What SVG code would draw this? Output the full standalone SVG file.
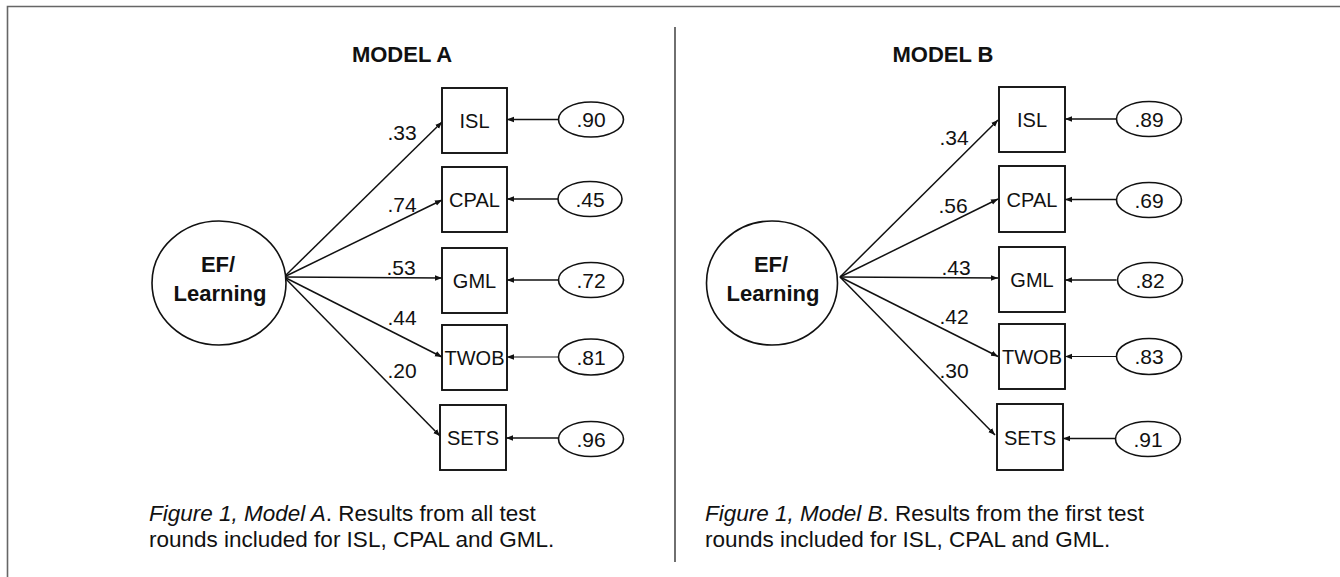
<svg xmlns="http://www.w3.org/2000/svg" width="1340" height="577" viewBox="0 0 1340 577">
<style>
  .frame { stroke: #666; stroke-width: 1.6; fill: none; }
  .divider { stroke: #333; stroke-width: 1.4; fill: none; }
  .box { fill: #fff; stroke: #111; stroke-width: 1.9; }
  .latent { fill: #fff; stroke: #111; stroke-width: 1.6; }
  .err { fill: #fff; stroke: #111; stroke-width: 1.6; }
  .edge { stroke: #111; stroke-width: 1.5; fill: none; marker-end: url(#arr); }
  .edge-thin { stroke: #111; stroke-width: 1; fill: none; marker-end: url(#arr); }
  .title { font-family: "Liberation Sans", Arial, sans-serif; font-weight: bold; font-size: 22px; fill: #111; text-anchor: middle; }
  .lat { font-family: "Liberation Sans", Arial, sans-serif; font-weight: bold; font-size: 22px; fill: #111; text-anchor: middle; }
  .lbl { font-family: "Liberation Sans", Arial, sans-serif; font-size: 20px; fill: #111; text-anchor: middle; }
  .num { font-family: "Liberation Sans", Arial, sans-serif; font-size: 21px; fill: #111; text-anchor: middle; }
  .cap { font-family: "Liberation Sans", Arial, sans-serif; font-size: 22.5px; fill: #111; }
  .it { font-style: italic; }
</style>
<defs>
  <marker id="arr" viewBox="0 0 10 10" refX="10" refY="5" markerWidth="7" markerHeight="7" markerUnits="userSpaceOnUse" orient="auto">
    <path d="M0,1 L10,5 L0,9 Z" fill="#111"/>
  </marker>
</defs>
<rect x="0" y="0" width="1340" height="577" fill="#fff"/>
<path class="frame" d="M7.5,577 L7.5,6.5 L1340,6.5"/>
<line class="divider" x1="675" y1="27" x2="675" y2="562"/>

<!-- Model A -->
<text class="title" x="402" y="62">MODEL A</text>
<g id="connectorsA">
  <line class="edge" x1="284" y1="277" x2="442" y2="122"/>
  <line class="edge" x1="284" y1="277" x2="442" y2="200"/>
  <line class="edge" x1="284" y1="277" x2="442" y2="278"/>
  <line class="edge" x1="284" y1="277" x2="442" y2="357"/>
  <line class="edge" x1="284" y1="277" x2="440" y2="436"/>
  <line class="edge" x1="558.5" y1="119.5" x2="507" y2="119.5"/>
  <line class="edge" x1="558.5" y1="199" x2="507" y2="199"/>
  <line class="edge" x1="558.5" y1="280" x2="507" y2="280"/>
  <line class="edge-thin" x1="558.5" y1="357" x2="507" y2="357"/>
  <line class="edge" x1="558.5" y1="438" x2="506" y2="438"/>
  <text class="num" x="402" y="140">.33</text>
  <text class="num" x="402" y="212">.74</text>
  <text class="num" x="401" y="275">.53</text>
  <text class="num" x="402" y="325">.44</text>
  <text class="num" x="402" y="378">.20</text>
</g>
<g id="A-latent">
  <ellipse class="latent" cx="219" cy="283" rx="67" ry="62"/>
  <text class="lat" x="218" y="272">EF/</text>
  <text class="lat" x="220" y="301">Learning</text>
</g>
<g id="A-ISL"><rect class="box" x="442" y="88" width="65" height="65"/><text class="lbl" x="474.5" y="127.5">ISL</text></g>
<g id="A-CPAL"><rect class="box" x="442" y="167" width="65" height="65"/><text class="lbl" x="474.5" y="206.5">CPAL</text></g>
<g id="A-GML"><rect class="box" x="442" y="248" width="65" height="65"/><text class="lbl" x="474.5" y="287.5">GML</text></g>
<g id="A-TWOB"><rect class="box" x="442" y="325" width="65" height="65"/><text class="lbl" x="474.5" y="364.5">TWOB</text></g>
<g id="A-SETS"><rect class="box" x="440" y="405" width="66" height="65"/><text class="lbl" x="473" y="444.5">SETS</text></g>
<g id="A-e1"><ellipse class="err" cx="591" cy="119.5" rx="32.5" ry="17.5"/><text class="num" x="591" y="127">.90</text></g>
<g id="A-e2"><ellipse class="err" cx="590" cy="199" rx="32" ry="17.5"/><text class="num" x="590" y="206.5">.45</text></g>
<g id="A-e3"><ellipse class="err" cx="591" cy="280" rx="32.5" ry="17.5"/><text class="num" x="591" y="287.5">.72</text></g>
<g id="A-e4"><ellipse class="err" cx="591" cy="357" rx="32.5" ry="18"/><text class="num" x="591" y="364.5">.81</text></g>
<g id="A-e5"><ellipse class="err" cx="591" cy="439" rx="32.5" ry="17.5"/><text class="num" x="591" y="446.5">.96</text></g>
<text class="cap" x="149" y="521"><tspan class="it">Figure 1, Model A</tspan>. Results from all test</text>
<text class="cap" x="149" y="547">rounds included for ISL, CPAL and GML.</text>

<!-- Model B -->
<text class="title" x="943" y="62">MODEL B</text>
<g id="connectorsB">
  <line class="edge" x1="840" y1="277" x2="998" y2="120"/>
  <line class="edge" x1="840" y1="277" x2="998" y2="199"/>
  <line class="edge" x1="840" y1="277" x2="998" y2="278"/>
  <line class="edge" x1="840" y1="277" x2="998" y2="356.5"/>
  <line class="edge" x1="840" y1="277" x2="995" y2="435"/>
  <line class="edge" x1="1116.5" y1="119" x2="1065" y2="119"/>
  <line class="edge" x1="1116.5" y1="199.5" x2="1065" y2="199.5"/>
  <line class="edge" x1="1116.5" y1="280" x2="1065" y2="280"/>
  <line class="edge-thin" x1="1116.5" y1="356.5" x2="1065" y2="356.5"/>
  <line class="edge" x1="1116.5" y1="438.5" x2="1063" y2="438.5"/>
  <text class="num" x="954" y="145">.34</text>
  <text class="num" x="953" y="213">.56</text>
  <text class="num" x="956" y="275">.43</text>
  <text class="num" x="954" y="324">.42</text>
  <text class="num" x="954" y="378">.30</text>
</g>
<g id="B-latent">
  <ellipse class="latent" cx="772" cy="283" rx="65.5" ry="62"/>
  <text class="lat" x="771" y="272">EF/</text>
  <text class="lat" x="773" y="301">Learning</text>
</g>
<g id="B-ISL"><rect class="box" x="999" y="87" width="66" height="65"/><text class="lbl" x="1032" y="126.5">ISL</text></g>
<g id="B-CPAL"><rect class="box" x="999" y="166" width="66" height="66"/><text class="lbl" x="1032" y="206.5">CPAL</text></g>
<g id="B-GML"><rect class="box" x="999" y="247" width="66" height="65"/><text class="lbl" x="1032" y="286.5">GML</text></g>
<g id="B-TWOB"><rect class="box" x="999" y="324" width="66" height="65"/><text class="lbl" x="1032" y="363.5">TWOB</text></g>
<g id="B-SETS"><rect class="box" x="997" y="404" width="66" height="66"/><text class="lbl" x="1030" y="444.5">SETS</text></g>
<g id="B-e1"><ellipse class="err" cx="1149" cy="119" rx="32.5" ry="17.5"/><text class="num" x="1149" y="126.5">.89</text></g>
<g id="B-e2"><ellipse class="err" cx="1149" cy="200" rx="32.5" ry="17.5"/><text class="num" x="1149" y="207.5">.69</text></g>
<g id="B-e3"><ellipse class="err" cx="1150" cy="280" rx="32.5" ry="17.5"/><text class="num" x="1150" y="287.5">.82</text></g>
<g id="B-e4"><ellipse class="err" cx="1149" cy="356.5" rx="32.5" ry="18"/><text class="num" x="1149" y="364">.83</text></g>
<g id="B-e5"><ellipse class="err" cx="1148" cy="439" rx="32.5" ry="17.5"/><text class="num" x="1148" y="446.5">.91</text></g>
<text class="cap" x="705" y="521"><tspan class="it">Figure 1, Model B</tspan>. Results from the first test</text>
<text class="cap" x="705" y="547">rounds included for ISL, CPAL and GML.</text>
</svg>
